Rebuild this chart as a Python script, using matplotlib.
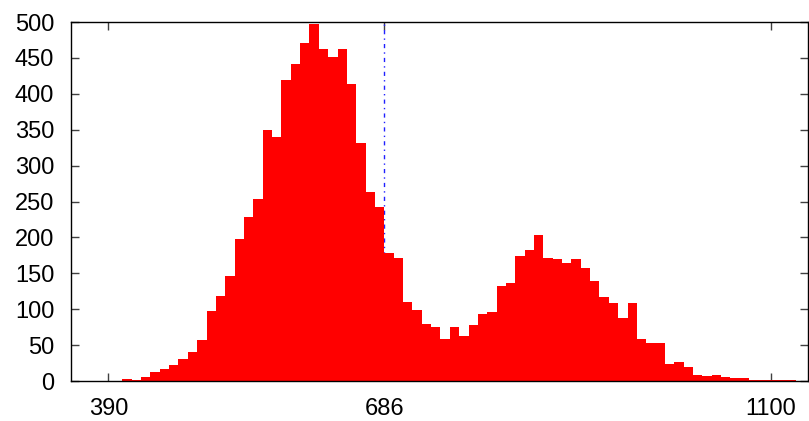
import numpy as np
import matplotlib
matplotlib.use("Agg")
import matplotlib.pyplot as plt

# =========================
# Histogram data (counts per bin)
# =========================
bin_start = 405.0
bin_width = 10.03
counts = [
    3, 1, 5, 12, 17, 22, 30, 41, 57, 98,
    119, 146, 198, 229, 253, 350, 340, 419, 442, 471,
    497, 462, 451, 463, 413, 331, 263, 242, 178, 171,
    110, 99, 80, 75, 58, 75, 62, 78, 93, 96,
    132, 137, 174, 182, 204, 172, 170, 165, 170, 157,
    139, 117, 108, 88, 109, 58, 53, 53, 24, 26,
    19, 8, 7, 8, 5, 4, 4, 2, 1, 1,
    1, 1,
]
marker_x = 686
x_ticks = [390, 686, 1100]
y_ticks = list(range(0, 501, 50))

plt.rcParams["font.family"] = ["Liberation Sans", "DejaVu Sans"]

fig = plt.figure(figsize=(8.09, 4.21), dpi=100)
ax = fig.add_axes([0.0878, 0.095, 0.9109, 0.8527])

lefts = bin_start + bin_width * np.arange(len(counts))
ax.bar(lefts, counts, width=bin_width, align="edge", color="#ff0000",
       linewidth=0, zorder=3)

# dash-dot marker line, drawn behind the bars
ax.axvline(marker_x, color="#2020ff", linewidth=1.0,
           linestyle=(0, (3, 3, 1, 3)), zorder=2)

ax.set_xlim(350, 1140)
ax.set_ylim(0, 500)
ax.set_xticks(x_ticks)
ax.set_xticklabels([str(v) for v in x_ticks])
ax.set_yticks(y_ticks)

ax.tick_params(direction="in", length=6, width=1.0, color="#404040",
               top=True, right=True, labelsize=17)
ax.tick_params(axis="y", pad=12)
ax.tick_params(axis="x", pad=12)

for s in ax.spines.values():
    s.set_linewidth(1.0)
    s.set_color("black")
    s.set_zorder(4)

fig.savefig("out.png", dpi=100)
